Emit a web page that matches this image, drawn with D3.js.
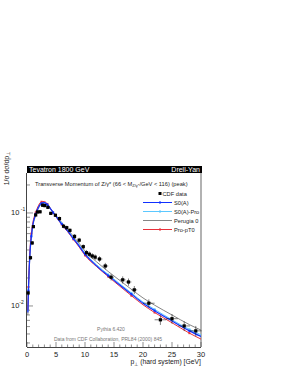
<!DOCTYPE html>
<html><head><meta charset="utf-8">
<script src="https://cdn.jsdelivr.net/npm/d3@7"></script>
<style>body{margin:0;background:#fff}svg{display:block;font-family:"Liberation Sans",Arial,sans-serif}</style>
</head><body><svg id="c" width="289" height="374"></svg>
<script>
// ---- data ----
const dataPt  = [0.2,0.6,0.9,1.1,1.5,1.8,2.25,2.7,3.05,3.6,4.1,4.9,5.6,6.3,6.85,7.4,8.2,9.0,9.7,10.25,10.75,11.25,11.75,12.5,13.5,14.5,16.5,17.5,18.5,21,23,25,27.1,29.1];
const dataVal = [0.0138,0.033,0.0476,0.0713,0.0952,0.1025,0.103,0.121,0.120,0.115,0.099,0.0945,0.087,0.072,0.0695,0.065,0.056,0.051,0.0434,0.0374,0.036,0.0345,0.0335,0.032,0.0269,0.0204,0.0191,0.0181,0.0149,0.0107,0.0071,0.0073,0.0061,0.0054];
const dataXErr= [0.1,0.15,0.15,0.15,0.2,0.2,0.25,0.25,0.25,0.25,0.25,0.25,0.25,0.25,0.25,0.25,0.25,0.25,0.25,0.25,0.25,0.25,0.25,0.5,0.5,0.5,0.5,0.5,0.5,1,1,1,1,1];
const dataYErrFrac = [0.06,0.05,0.05,0.04,0.04,0.04,0.04,0.04,0.04,0.04,0.04,0.04,0.05,0.05,0.05,0.05,0.06,0.06,0.06,0.07,0.07,0.07,0.07,0.07,0.08,0.08,0.09,0.09,0.1,0.1,0.12,0.12,0.12,0.13];

const mcPt      = [0.15,0.25,0.5,0.75,1,1.5,2,2.5,3,3.5,4,4.5,5,6,7,8,9,10,12,14,16,18,20,22,25,28,30];
const s0a       = [0.0085,0.0145,0.036,0.056,0.074,0.097,0.116,0.127,0.129,0.123,0.112,0.101,0.092,0.076,0.064,0.053,0.044,0.036,0.027,0.0212,0.0168,0.0134,0.0107,0.0089,0.0069,0.0054,0.0047];
const s0aPro    = [0.0088,0.015,0.037,0.057,0.075,0.098,0.117,0.128,0.130,0.124,0.113,0.102,0.093,0.077,0.065,0.054,0.045,0.0368,0.0277,0.0218,0.0173,0.0138,0.011,0.0092,0.0071,0.0056,0.0049];
const perugia0  = [0.008,0.014,0.034,0.053,0.071,0.094,0.113,0.124,0.127,0.122,0.112,0.102,0.094,0.079,0.067,0.056,0.047,0.039,0.0298,0.0235,0.0188,0.0151,0.0122,0.0102,0.0080,0.0063,0.0055];
const proPT0    = [0.009,0.016,0.039,0.060,0.078,0.101,0.121,0.132,0.133,0.125,0.113,0.101,0.091,0.075,0.063,0.052,0.043,0.035,0.0265,0.0207,0.0163,0.0129,0.0103,0.0085,0.0066,0.0051,0.0044];

const xTicks = [0,5,10,15,20,25,30];
const yTickExps = [-1,-2];
const legendLabels = ["CDF data","S0(A)","S0(A)-Pro","Perugia 0","Pro-pT0"];

// ---- layout ----
const L=27,R=201,T=173,B=347;
const svg=d3.select("#c");
const x=d3.scaleLinear().domain([0,30]).range([L,R]);
const y=d3.scaleLog().domain([0.00362,0.269]).range([B,T]);

svg.append("defs").append("clipPath").attr("id","pc").append("rect").attr("x",L).attr("y",T).attr("width",R-L).attr("height",B-T);

// header bar
svg.append("rect").attr("x",L).attr("y",166).attr("width",R-L+1).attr("height",7).attr("fill","#000");
svg.append("text").attr("x",L+2).attr("y",172.2).attr("fill","#fff").attr("font-size",7).text("Tevatron 1800 GeV");
svg.append("text").attr("x",R-1).attr("y",172.2).attr("fill","#fff").attr("font-size",7).attr("text-anchor","end").text("Drell-Yan");

// frame
svg.append("line").attr("x1",R).attr("x2",R).attr("y1",T).attr("y2",B).attr("stroke","#999").attr("stroke-width",1.5);

// x axis
const xg=svg.append("g");
xg.append("line").attr("x1",L).attr("x2",R).attr("y1",B+0.5).attr("y2",B+0.5).attr("stroke","#444");
for(let v=0;v<=30;v++){
  const major=v%5===0;
  xg.append("line").attr("x1",x(v)).attr("x2",x(v)).attr("y1",B).attr("y2",B-(major?5:2.5)).attr("stroke","#444").attr("stroke-width",0.6);
}
xTicks.forEach(v=>xg.append("text").attr("x",x(v)).attr("y",357).attr("font-size",7.5).attr("text-anchor","middle").attr("fill","#222").text(v));
const xl=svg.append("text").attr("x",R).attr("y",364).attr("font-size",6.8).attr("text-anchor","end").attr("fill","#222");
xl.append("tspan").text("p");
xl.append("tspan").attr("font-size",5).attr("dy",1.5).text("\u22a5");
xl.append("tspan").attr("dy",-1.5).text(" (hard system) [GeV]");

// y axis
const yg=svg.append("g");
yg.append("line").attr("x1",L-0.5).attr("x2",L-0.5).attr("y1",T).attr("y2",B).attr("stroke","#444");
[-3,-2,-1].forEach(e=>{
  for(let m=1;m<10;m++){
    const v=m*Math.pow(10,e);
    if(v<y.domain()[0]||v>y.domain()[1]) continue;
    yg.append("line").attr("x1",L).attr("x2",L+(m===1?6:3)).attr("y1",y(v)).attr("y2",y(v)).attr("stroke","#444").attr("stroke-width",0.6);
  }
});
yTickExps.forEach(e=>{
  const t=yg.append("text").attr("x",11).attr("y",y(Math.pow(10,e))+2.5).attr("font-size",7.5).attr("fill","#222");
  t.append("tspan").text("10");
  t.append("tspan").attr("font-size",5).attr("dy",-4).text(e===-1?" -1":"-2");
});
const yl=svg.append("text").attr("transform","translate(8.5,152) rotate(-90)").attr("font-size",6.8).attr("text-anchor","end").attr("fill","#222");
yl.append("tspan").text("1/\u03c3 d\u03c3/dp");
yl.append("tspan").attr("font-size",5).attr("dy",1.5).text("\u22a5");

// curves
const plot=svg.append("g").attr("clip-path","url(#pc)");
const line=d3.line().x(d=>x(d[0])).y(d=>y(d[1])).curve(d3.curveMonotoneX);
const series=[
  {vals:perugia0,color:"#666",w:0.8,marker:false},
  {vals:s0aPro,color:"#5cc8ff",w:1,marker:true},
  {vals:proPT0,color:"#e8303a",w:1,marker:true},
  {vals:s0a,color:"#1030ff",w:1.2,marker:true}
];
series.forEach(s=>{
  const pts=mcPt.map((p,i)=>[p,s.vals[i]]);
  plot.append("path").attr("d",line(pts)).attr("fill","none").attr("stroke",s.color).attr("stroke-width",s.w);
  if(s.marker){
    pts.filter((d,i)=>i%2===1).forEach(d=>plot.append("rect").attr("x",x(d[0])-1).attr("y",y(d[1])-1).attr("width",2).attr("height",2).attr("fill",s.color));
  }
});

// data
const dg=svg.append("g");
dataPt.forEach((p,i)=>{
  const v=dataVal[i],e=v*dataYErrFrac[i],xe=dataXErr[i];
  dg.append("line").attr("x1",x(p-xe)).attr("x2",x(p+xe)).attr("y1",y(v)).attr("y2",y(v)).attr("stroke","#000").attr("stroke-width",0.5);
  dg.append("line").attr("x1",x(p)).attr("x2",x(p)).attr("y1",y(v-e)).attr("y2",y(v+e)).attr("stroke","#000").attr("stroke-width",0.5);
  dg.append("rect").attr("x",x(p)-1.6).attr("y",y(v)-1.6).attr("width",3.2).attr("height",3.2).attr("fill","#000");
});

// title
const tt=svg.append("text").attr("x",35).attr("y",186).attr("font-size",5.7).attr("fill","#222");
tt.append("tspan").text("Transverse Momentum of Z/\u03b3* (66 < M");
tt.append("tspan").attr("font-size",4).attr("dy",1.3).text("Z/\u03b3*");
tt.append("tspan").attr("dy",-1.3).text("/GeV < 116) (peak)");

// legend
const lg=svg.append("g");
const rowY=[193.5,202.5,211.5,220.5,229.5];
const legColors=["#000","#1030ff","#5cc8ff","#666","#e8303a"];
legendLabels.forEach((lab,i)=>{
  const yy=rowY[i];
  if(i===0){
    lg.append("rect").attr("x",158.5).attr("y",yy-1.5).attr("width",3).attr("height",3).attr("fill","#000");
    lg.append("text").attr("x",162.5).attr("y",yy+2).attr("font-size",5.7).attr("fill","#222").text(lab);
  } else {
    lg.append("line").attr("x1",143).attr("x2",172).attr("y1",yy).attr("y2",yy).attr("stroke",legColors[i]).attr("stroke-width",i===3?0.8:1);
    if(i!==3) lg.append("rect").attr("x",159).attr("y",yy-1).attr("width",2).attr("height",2).attr("fill",legColors[i]);
    lg.append("text").attr("x",174).attr("y",yy+2).attr("font-size",5.7).attr("fill","#222").text(lab);
  }
});

// notes
svg.append("text").attr("x",111).attr("y",331).attr("font-size",5).attr("text-anchor","middle").attr("fill","#777").text("Pythia 6.420");
svg.append("text").attr("x",162).attr("y",341).attr("font-size",5).attr("text-anchor","end").attr("fill","#777").text("Data from CDF Collaboration, PRL84 (2000) 845");
</script></body></html>
